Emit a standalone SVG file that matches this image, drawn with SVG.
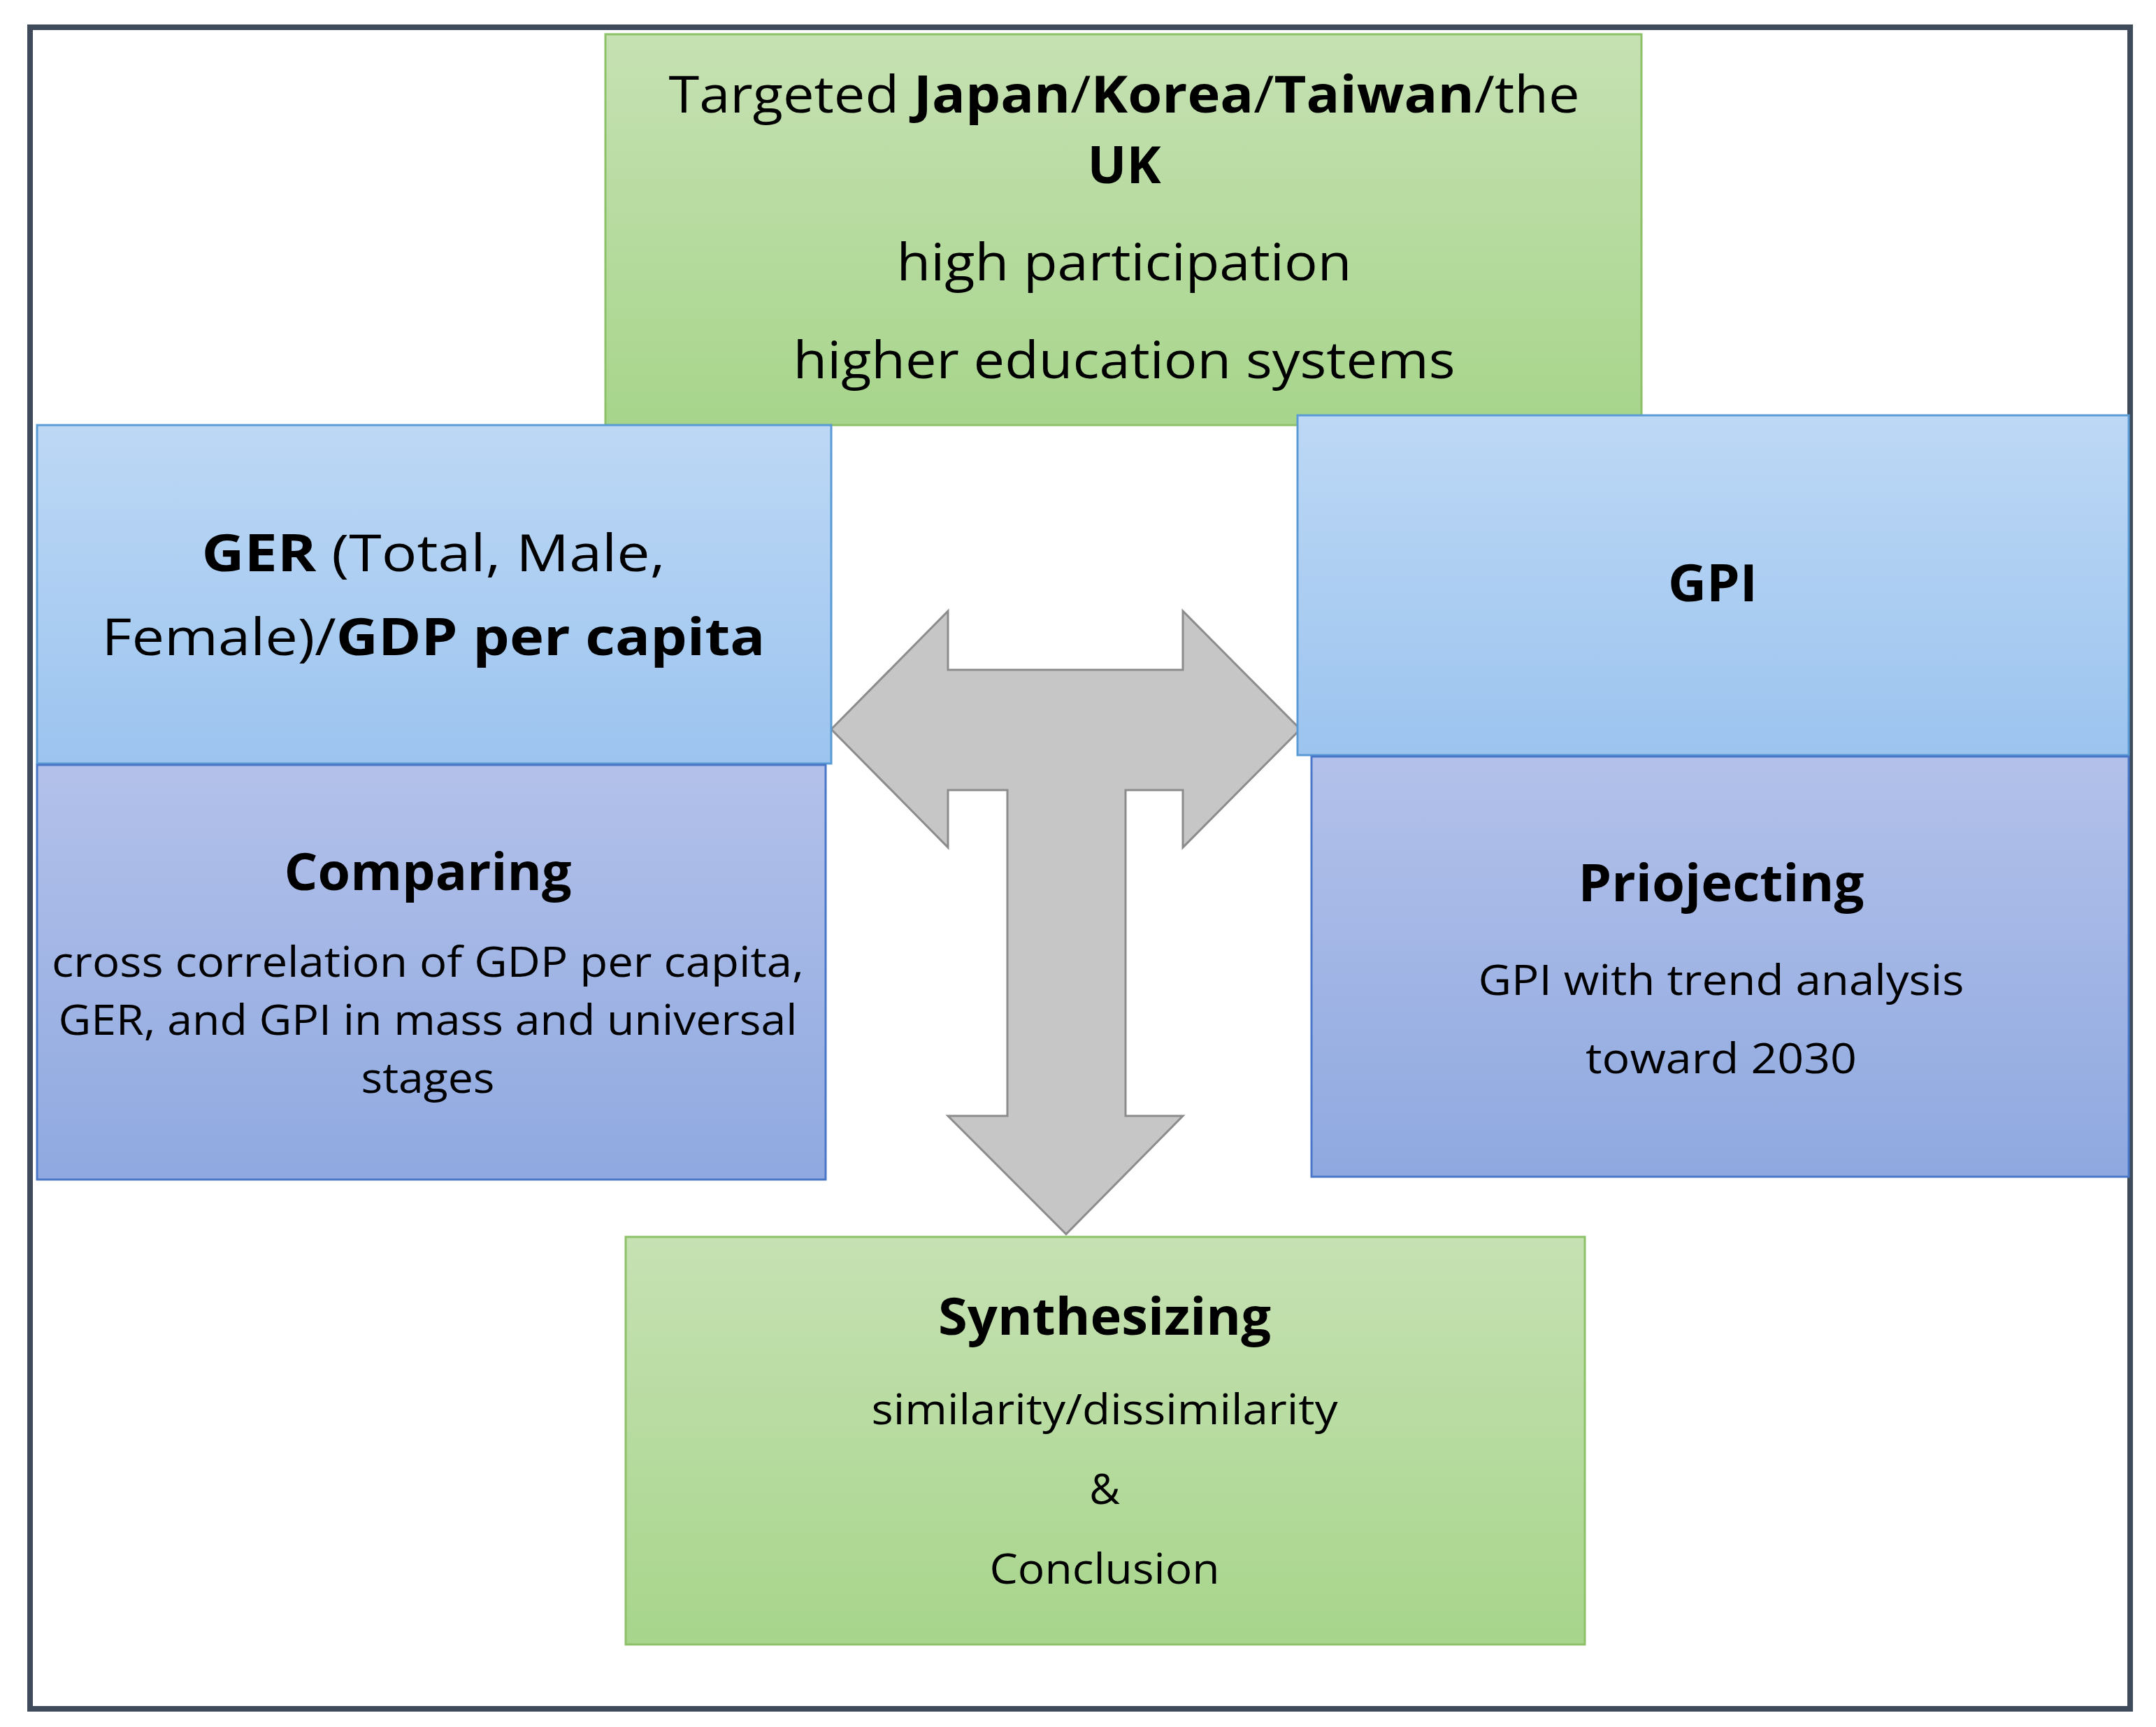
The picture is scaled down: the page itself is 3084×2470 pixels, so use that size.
<svg xmlns="http://www.w3.org/2000/svg" width="3084" height="2470" viewBox="0 0 3084 2470">
<defs>
<linearGradient id="gG" x1="0" y1="0" x2="0" y2="1"><stop offset="0" stop-color="#c6e1b3"/><stop offset="1" stop-color="#a7d58b"/></linearGradient>
<linearGradient id="gB" x1="0" y1="0" x2="0" y2="1"><stop offset="0" stop-color="#bdd8f5"/><stop offset="1" stop-color="#9cc4ef"/></linearGradient>
<linearGradient id="gP" x1="0" y1="0" x2="0" y2="1"><stop offset="0" stop-color="#b3c1ea"/><stop offset="1" stop-color="#8fa9e0"/></linearGradient>
<style>
text{font-family:"Open Sans","Noto Sans","Liberation Sans",sans-serif;fill:#000;text-anchor:middle}
.g{fill:url(#gG);stroke:#8cc168;stroke-width:3}
.b{fill:url(#gB);stroke:#5b9bd5;stroke-width:3}
.p{fill:url(#gP);stroke:#4a76c8;stroke-width:3}
.L{font-size:74px}.S{font-size:60px}.B{font-weight:bold}
</style>
</defs>
<rect x="43" y="39" width="3004" height="2405" fill="#fff" stroke="#3f4b5b" stroke-width="8"/>
<g id="connectors">
<polygon points="1189,1043 1356,874 1356,958 1692,958 1692,874 1860,1043 1692,1212 1692,1130 1610,1130 1610,1596 1692,1596 1525,1765 1356,1596 1441,1596 1441,1130 1356,1130 1356,1212" fill="#c6c6c6" stroke="#8c8c8c" stroke-width="3"/>
</g>
<g id="top">
<rect class="g" x="866" y="49" width="1482" height="559"/>
<text class="L" x="1608" y="161" textLength="1303" lengthAdjust="spacingAndGlyphs">Targeted <tspan class="B">Japan</tspan>/<tspan class="B">Korea</tspan>/<tspan class="B">Taiwan</tspan>/the</text>
<text class="L B" x="1608" y="262">UK</text>
<text class="L" x="1608" y="401" textLength="651" lengthAdjust="spacingAndGlyphs">high participation</text>
<text class="L" x="1608" y="541" textLength="947" lengthAdjust="spacingAndGlyphs">higher education systems</text>
</g>
<g id="ger">
<rect class="b" x="53" y="608" width="1136" height="484"/>
<text class="L" x="620" y="817" textLength="663" lengthAdjust="spacingAndGlyphs"><tspan class="B">GER</tspan> (Total, Male,</text>
<text class="L" x="620" y="937" textLength="949" lengthAdjust="spacingAndGlyphs">Female)/<tspan class="B">GDP per capita</tspan></text>
</g>
<g id="gpi">
<rect class="b" x="1856" y="594" width="1189" height="486"/>
<text class="L B" x="2450" y="860" textLength="128" lengthAdjust="spacingAndGlyphs">GPI</text>
</g>
<g id="comparing">
<rect class="p" x="53" y="1094" width="1128" height="593"/>
<text class="L B" x="612" y="1273" textLength="411" lengthAdjust="spacingAndGlyphs">Comparing</text>
<text class="S" x="612" y="1397" textLength="1076" lengthAdjust="spacingAndGlyphs">cross correlation of GDP per capita,</text>
<text class="S" x="612" y="1480" textLength="1057" lengthAdjust="spacingAndGlyphs">GER, and GPI in mass and universal</text>
<text class="S" x="612" y="1563" textLength="191" lengthAdjust="spacingAndGlyphs">stages</text>
</g>
<g id="projecting">
<rect class="p" x="1876" y="1082" width="1169" height="601"/>
<text class="L B" x="2462" y="1289" textLength="409" lengthAdjust="spacingAndGlyphs">Priojecting</text>
<text class="S" x="2462" y="1423" textLength="695" lengthAdjust="spacingAndGlyphs">GPI with trend analysis</text>
<text class="S" x="2462" y="1535" textLength="388" lengthAdjust="spacingAndGlyphs">toward 2030</text>
</g>
<g id="synthesizing">
<rect class="g" x="895" y="1769" width="1372" height="583"/>
<text class="L B" x="1580" y="1909" textLength="476" lengthAdjust="spacingAndGlyphs">Synthesizing</text>
<text class="S" x="1580" y="2037" textLength="667" lengthAdjust="spacingAndGlyphs">similarity/dissimilarity</text>
<text class="S" x="1580" y="2151">&amp;</text>
<text class="S" x="1580" y="2265" textLength="329" lengthAdjust="spacingAndGlyphs">Conclusion</text>
</g>
</svg>
